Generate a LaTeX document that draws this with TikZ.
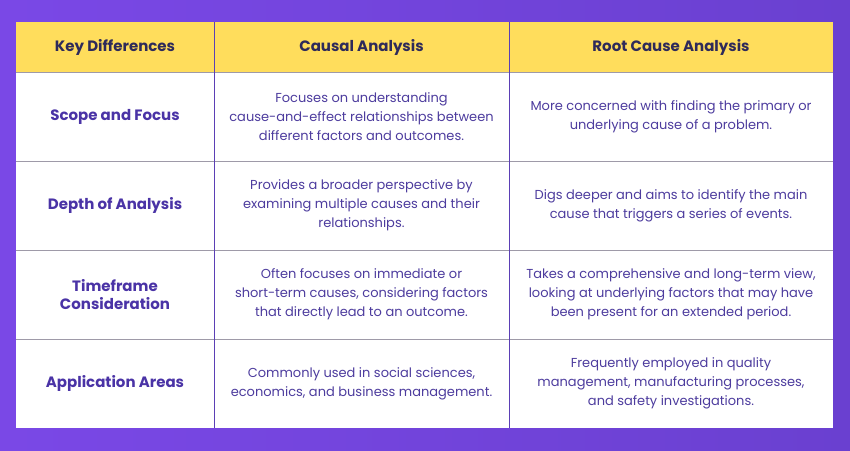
\documentclass[tikz,border=0pt]{standalone}
\usepackage{fontspec}
\setmainfont{Poppins}
\usetikzlibrary{positioning}
\definecolor{bgL}{HTML}{7A48E6}
\definecolor{bgR}{HTML}{6A40D0}
\definecolor{hdr}{HTML}{FFDD5C}
\definecolor{hdrtxt}{HTML}{2E2A5A}
\definecolor{keytxt}{HTML}{4A33A6}
\definecolor{bodytxt}{HTML}{4D3C9E}
\definecolor{vline}{HTML}{5B3FB5}
\definecolor{hline}{HTML}{9E9AA8}
\tikzset{
 hd/.style={font=\fontsize{15}{18}\selectfont\bfseries, text=hdrtxt, align=center},
 key/.style={font=\fontsize{15}{18}\selectfont\bfseries, text=keytxt, align=center},
 bd/.style={font=\fontsize{13}{19}\selectfont, text=bodytxt, align=center},
}
\begin{document}
\begin{tikzpicture}[x=1pt,y=-1pt]
\shade[left color=bgL, right color=bgR] (0,0) rectangle (850,450);
\useasboundingbox (0,0) rectangle (850,450);
\fill[white] (16,22) rectangle (833,428);
\fill[hdr] (16,22) rectangle (833,72);
\foreach \y in {72,161,250,339} \draw[hline, line width=1pt] (16,\y) -- (833,\y);
\foreach \x in {214,509} \draw[vline, line width=1pt] (\x,22) -- (\x,428);
\node[hd] (h1) at (115,47) {Key Differences};
\node[hd] (h2) at (361.5,47) {Causal Analysis};
\node[hd] (h3) at (671,47) {Root Cause Analysis};
\node[key] (k1) at (115,116.5) {Scope and Focus};
\node[key] (k2) at (115,205.5) {Depth of Analysis};
\node[key] (k3) at (115,294.5) {Timeframe\\Consideration};
\node[key] (k4) at (115,383.5) {Application Areas};
\node[bd] (c1) at (361.5,116.5) {Focuses on understanding\\cause-and-effect relationships between\\different factors and outcomes.};
\node[bd] (c2) at (361.5,205.5) {Provides a broader perspective by\\examining multiple causes and their\\relationships.};
\node[bd] (c3) at (361.5,294.5) {Often focuses on immediate or\\short-term causes, considering factors\\that directly lead to an outcome.};
\node[bd] (c4) at (361.5,383.5) {Commonly used in social sciences,\\economics, and business management.};
\node[bd] (r1) at (671,116.5) {More concerned with finding the primary or\\underlying cause of a problem.};
\node[bd] (r2) at (671,205.5) {Digs deeper and aims to identify the main\\cause that triggers a series of events.};
\node[bd] (r3) at (671,294.5) {Takes a comprehensive and long-term view,\\looking at underlying factors that may have\\been present for an extended period.};
\node[bd] (r4) at (671,383.5) {Frequently employed in quality\\management, manufacturing processes,\\and safety investigations.};
\end{tikzpicture}
\end{document}
